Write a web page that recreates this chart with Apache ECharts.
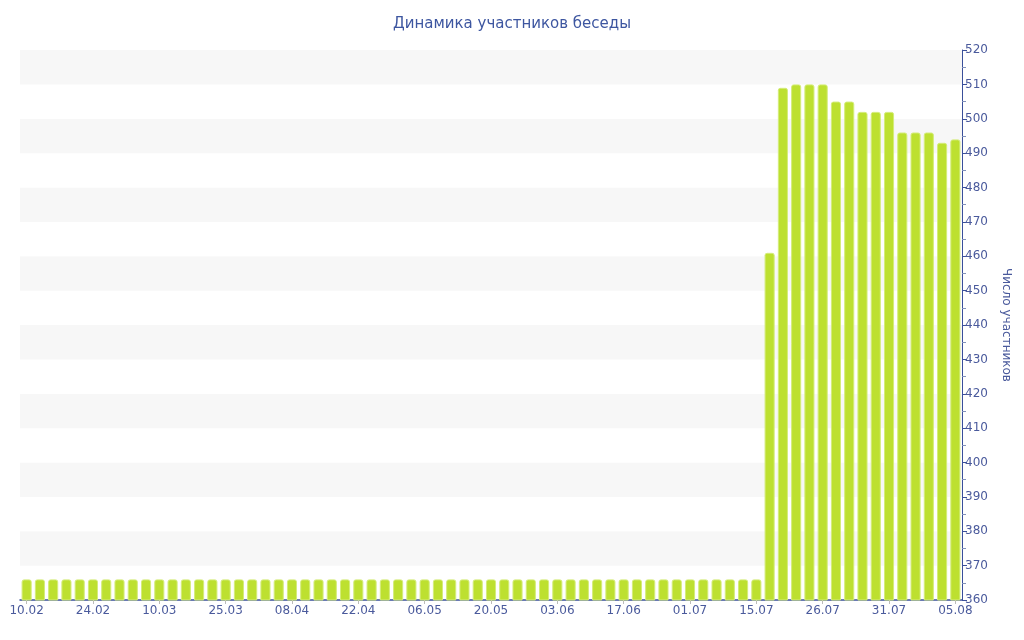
<!DOCTYPE html>
<html><head><meta charset="utf-8">
<script src="https://cdn.jsdelivr.net/npm/echarts@6/dist/echarts.min.js"></script>
<style>html,body{margin:0;padding:0;background:#fff}#c{width:1024px;height:640px}</style>
</head><body><div id="c"></div>
<script>
const categories = ['10.02','13.02','16.02','18.02','21.02','24.02','27.02','01.03','04.03','07.03',
'10.03','13.03','16.03','19.03','22.03','25.03','28.03','31.03','03.04','05.04',
'08.04','11.04','14.04','17.04','19.04','22.04','25.04','28.04','01.05','03.05',
'06.05','09.05','12.05','15.05','17.05','20.05','23.05','26.05','29.05','31.05',
'03.06','06.06','09.06','12.06','14.06','17.06','20.06','23.06','26.06','28.06',
'01.07','04.07','07.07','10.07','12.07','15.07','18.07','20.07','22.07','24.07',
'26.07','27.07','28.07','29.07','30.07','31.07','01.08','02.08','03.08','04.08','05.08'];
const members = [366,366,366,366,366,366,366,366,366,366,
366,366,366,366,366,366,366,366,366,366,
366,366,366,366,366,366,366,366,366,366,
366,366,366,366,366,366,366,366,366,366,
366,366,366,366,366,366,366,366,366,366,
366,366,366,366,366,366,461,509,510,510,
510,505,505,502,502,502,496,496,496,493,494];
const titleText = 'Динамика участников беседы';
const axisName = 'Число участников';

const textColor = '#4a5a9c';
const chart = echarts.init(document.getElementById('c'));
chart.setOption({
  animation: false,
  backgroundColor: '#fff',
  textStyle: { fontFamily: 'DejaVu Sans' },
  title: { text: titleText, left: 'center', top: 12,
    textStyle: { fontFamily: 'DejaVu Sans', fontSize: 15, fontWeight: 'normal', color: '#3d56a0' } },
  grid: { left: 20, right: 62, top: 50, bottom: 40 },
  xAxis: {
    type: 'category', data: categories,
    axisLine: { lineStyle: { color: '#3a4f9a', width: 1.5 } },
    axisTick: { show: true, interval: 4, alignWithLabel: true, length: 4, lineStyle: { color: '#bbb' } },
    axisLabel: { interval: 4, color: textColor, fontSize: 12, margin: 5 },
    splitLine: { show: false }
  },
  yAxis: {
    type: 'value', position: 'right', min: 360, max: 520, interval: 10,
    name: axisName, nameLocation: 'middle', nameRotate: -90, nameGap: 38,
    nameTextStyle: { color: textColor, fontSize: 12 },
    axisLine: { show: true, lineStyle: { color: '#3a4f9a' } },
    axisTick: { show: true, length: 5, lineStyle: { color: '#3a4f9a' } },
    minorTick: { show: true, splitNumber: 2, length: 4, lineStyle: { color: '#8090bb' } },
    axisLabel: { color: textColor, fontSize: 12, margin: 3 },
    splitLine: { show: false },
    splitArea: { show: true, areaStyle: { color: ['#ffffff', '#f7f7f7'] } }
  },
  series: [{
    type: 'bar', data: members, barCategoryGap: '24%',
    itemStyle: { color: '#bde030', borderColor: '#d4ec7a', borderWidth: 1, borderRadius: [2, 2, 0, 0] }
  }]
});
</script></body></html>
